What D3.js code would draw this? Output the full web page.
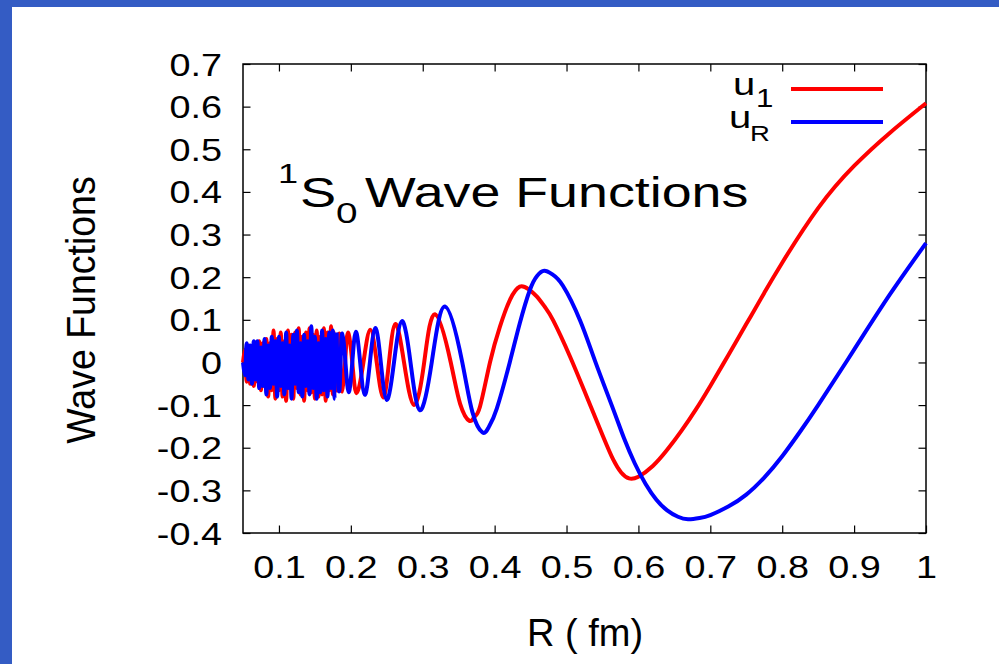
<!DOCTYPE html>
<html>
<head>
<meta charset="utf-8">
<script src="https://cdn.jsdelivr.net/npm/d3@7"></script>
<style>
  html, body { margin: 0; padding: 0; background: #fff; }
  svg { display: block; }
  text { font-family: "Liberation Sans", Arial, Helvetica, sans-serif; fill: #000; }
</style>
</head>
<body>
<svg id="chart" width="999" height="664"></svg>
<script>
// axis ticks
const xTicks = [0.1, 0.2, 0.3, 0.4, 0.5, 0.6, 0.7, 0.8, 0.9, 1.0];
const xTickLabels = ["0.1", "0.2", "0.3", "0.4", "0.5", "0.6", "0.7", "0.8", "0.9", "1"];
const yTicks = [-0.4, -0.3, -0.2, -0.1, 0, 0.1, 0.2, 0.3, 0.4, 0.5, 0.6, 0.7];
const yTickLabels = ["-0.4", "-0.3", "-0.2", "-0.1", "0", "0.1", "0.2", "0.3", "0.4", "0.5", "0.6", "0.7"];

const denseR = [0.05, 0.0525, 0.055, 0.0575, 0.06, 0.0625, 0.065, 0.0675, 0.07, 0.0725,
  0.075, 0.0775, 0.08, 0.0825, 0.085, 0.0875, 0.09, 0.0925, 0.095, 0.0975,
  0.1, 0.1025, 0.105, 0.1075, 0.11, 0.1125, 0.115, 0.1175, 0.12, 0.1225,
  0.125, 0.1275, 0.13, 0.1325, 0.135, 0.1375, 0.14, 0.1425, 0.145, 0.1475,
  0.15, 0.1525, 0.155, 0.1575, 0.16, 0.1625, 0.165, 0.1675, 0.17, 0.1725,
  0.175, 0.1775, 0.18];
const u1Dense = [0.0, 0.03, -0.045, 0.04, -0.05, 0.03, -0.055, 0.045, -0.045, 0.05,
  -0.065, 0.045, -0.055, 0.055, -0.08, 0.045, -0.065, 0.075, -0.085, 0.055,
  -0.065, 0.07, -0.08, 0.05, -0.09, 0.075, -0.06, 0.065, -0.085, 0.07,
  -0.06, 0.08, -0.075, 0.06, -0.09, 0.07, -0.065, 0.08, -0.07, 0.065,
  -0.085, 0.075, -0.08, 0.06, -0.075, 0.08, -0.09, 0.07, -0.065, 0.085,
  -0.075, 0.07, -0.07];
const uRDense = [0.0, -0.03, 0.045, -0.04, 0.04, -0.05, 0.05, -0.04, 0.05, -0.06,
  0.035, -0.055, 0.055, -0.075, 0.04, -0.06, 0.06, -0.05, 0.05, -0.08,
  0.06, -0.055, 0.045, -0.075, 0.07, -0.06, 0.04, -0.085, 0.065, -0.05,
  0.075, -0.07, 0.045, -0.08, 0.065, -0.055, 0.05, -0.075, 0.085, -0.06,
  0.06, -0.085, 0.045, -0.07, 0.075, -0.065, 0.055, -0.08, 0.07, -0.06,
  0.075, -0.085, 0.07];

// resolved part, [R, u]
const u1Smooth = [
  [0.18, -0.07], [0.1835, 0.066], [0.1855, 0], [0.188, -0.068], [0.192, 0], [0.196, 0.07],
  [0.202, 0], [0.208, -0.072], [0.2175, 0], [0.227, 0.077], [0.236, 0],
  [0.245, -0.082], [0.253, 0], [0.262, 0.09], [0.274, 0], [0.288, -0.1],
  [0.302, 0], [0.317, 0.113], [0.339, 0], [0.352, -0.097], [0.365, -0.137],
  [0.372, -0.127], [0.3796, -0.104], [0.3935, 0], [0.4074, 0.084], [0.4213, 0.147],
  [0.435, 0.178], [0.447, 0.172], [0.4585, 0.155], [0.47, 0.13], [0.4816, 0.098],
  [0.5048, 0.014], [0.528, -0.08], [0.551, -0.174], [0.565, -0.228], [0.576, -0.258],
  [0.587, -0.272], [0.6, -0.268], [0.62, -0.243], [0.64, -0.205], [0.66, -0.16],
  [0.68, -0.11], [0.7, -0.055], [0.725, 0.017], [0.75, 0.09], [0.775, 0.163],
  [0.8, 0.234], [0.85, 0.362], [0.9, 0.461], [0.95, 0.539], [1.0, 0.608]
];
const uRSmooth = [
  [0.18, 0.07], [0.1835, -0.066], [0.1857, 0], [0.188, 0.068], [0.1925, 0], [0.197, -0.07],
  [0.202, 0], [0.207, 0.072], [0.213, 0], [0.2195, -0.076], [0.2265, 0],
  [0.234, 0.081], [0.2417, 0], [0.25, -0.088], [0.26, 0], [0.271, 0.097],
  [0.283, 0], [0.296, -0.112], [0.3125, 0], [0.331, 0.131], [0.355, 0],
  [0.369, -0.116], [0.383, -0.164], [0.392, -0.151], [0.403, -0.108], [0.421, 0],
  [0.435, 0.092], [0.449, 0.17], [0.459, 0.203], [0.469, 0.215], [0.48, 0.207],
  [0.495, 0.18], [0.519, 0.098], [0.54, 0.002], [0.565, -0.11], [0.58, -0.178],
  [0.595, -0.237], [0.61, -0.285], [0.625, -0.322], [0.64, -0.347], [0.655, -0.362],
  [0.669, -0.368], [0.685, -0.365], [0.7, -0.358], [0.725, -0.338], [0.75, -0.31],
  [0.775, -0.27], [0.8, -0.22], [0.825, -0.162], [0.85, -0.1], [0.9, 0.03],
  [0.95, 0.16], [1.0, 0.28]
];

const u1Band = denseR.map((r, i) => [r, u1Dense[i]]);
const uRBand = denseR.map((r, i) => [r, uRDense[i]]);

const svg = d3.select("#chart");

// slide background
svg.append("rect").attr("x", 0).attr("y", 0).attr("width", 999).attr("height", 664).attr("fill", "#345cc4");
svg.append("rect").attr("x", 12).attr("y", 7).attr("width", 987).attr("height", 657).attr("fill", "#fff");

const plotL = 243, plotR = 926, plotT = 64, plotB = 533;
const x = d3.scaleLinear().domain([0.05, 1]).range([plotL, plotR]);
const y = d3.scaleLinear().domain([-0.4, 0.7]).range([plotB, plotT]);

// axes, ticks mirrored and pointing inwards
const gx = svg.append("g").attr("transform", `translate(0,${plotB})`)
  .call(d3.axisBottom(x).tickValues(xTicks).tickSize(-7.5).tickFormat((d, i) => xTickLabels[i]));
const gy = svg.append("g").attr("transform", `translate(${plotL},0)`)
  .call(d3.axisLeft(y).tickValues(yTicks).tickSize(-7.5).tickFormat((d, i) => yTickLabels[i]));
const gt = svg.append("g").attr("transform", `translate(0,${plotT})`)
  .call(d3.axisTop(x).tickValues(xTicks).tickSize(-7.5).tickFormat(""));
const gr = svg.append("g").attr("transform", `translate(${plotR},0)`)
  .call(d3.axisRight(y).tickValues(yTicks).tickSize(-7.5).tickFormat(""));

[gx, gy, gt, gr].forEach(g => {
  g.select(".domain").remove();
  g.selectAll(".tick line").attr("stroke", "#000").attr("stroke-width", 1.2);
});

gx.selectAll(".tick text")
  .attr("x", 0).attr("y", 0).attr("dy", null)
  .attr("transform", "translate(0,45) scale(1.22,1)")
  .attr("font-size", 31).attr("text-anchor", "middle").attr("fill", "#000");
gy.selectAll(".tick text")
  .attr("x", 0).attr("y", 0).attr("dy", null)
  .attr("transform", "translate(-21,11) scale(1.22,1)")
  .attr("font-size", 31).attr("text-anchor", "end").attr("fill", "#000");

svg.append("rect")
  .attr("x", plotL).attr("y", plotT).attr("width", plotR - plotL).attr("height", plotB - plotT)
  .attr("fill", "none").attr("stroke", "#000").attr("stroke-width", 1.5);

// curves: ragged band drawn point to point, resolved part as a smooth spline
const bandLine = d3.line().x(d => x(d[0])).y(d => y(d[1])).curve(d3.curveCatmullRom.alpha(0.5));
const smoothLine = d3.line().x(d => x(d[0])).y(d => y(d[1])).curve(d3.curveNatural);

function drawSeries(band, smooth, color) {
  svg.append("path").datum(band).attr("d", bandLine)
    .attr("fill", "none").attr("stroke", color).attr("stroke-width", 4).attr("stroke-linejoin", "round");
  svg.append("path").datum(smooth).attr("d", smoothLine)
    .attr("fill", "none").attr("stroke", color).attr("stroke-width", 4).attr("stroke-linejoin", "round");
}
drawSeries(u1Band, u1Smooth, "#ff0000");
drawSeries(uRBand, uRSmooth, "#0000ff");

// text helper with horizontal stretch
function txt(str, px, py, size, sx, anchor) {
  return svg.append("text")
    .attr("transform", `translate(${px},${py}) scale(${sx},1)`)
    .attr("font-size", size).attr("text-anchor", anchor || "start").text(str);
}

// legend
txt("u", 733, 95, 32, 1.25);
txt("1", 756, 107, 25, 1.25);
txt("u", 729, 128, 32, 1.25);
txt("R", 750, 141, 22, 1.25);
svg.append("line").attr("x1", 791).attr("x2", 883).attr("y1", 89).attr("y2", 89)
  .attr("stroke", "#ff0000").attr("stroke-width", 4);
svg.append("line").attr("x1", 791).attr("x2", 883).attr("y1", 122).attr("y2", 122)
  .attr("stroke", "#0000ff").attr("stroke-width", 4);

// title inside the plot
txt("1", 278, 183, 28, 1.29);
txt("S", 300, 207, 42, 1.29);
txt("0", 336, 223, 30, 1.29);
txt("Wave Functions", 365, 207, 42, 1.28);

// axis labels
txt("R ( fm)", 585, 646, 38, 1.0, "middle");
svg.append("text")
  .attr("transform", "translate(95,310) scale(1.1,1) rotate(-90)")
  .attr("font-size", 37.5).attr("text-anchor", "middle").text("Wave Functions");
</script>
</body>
</html>
